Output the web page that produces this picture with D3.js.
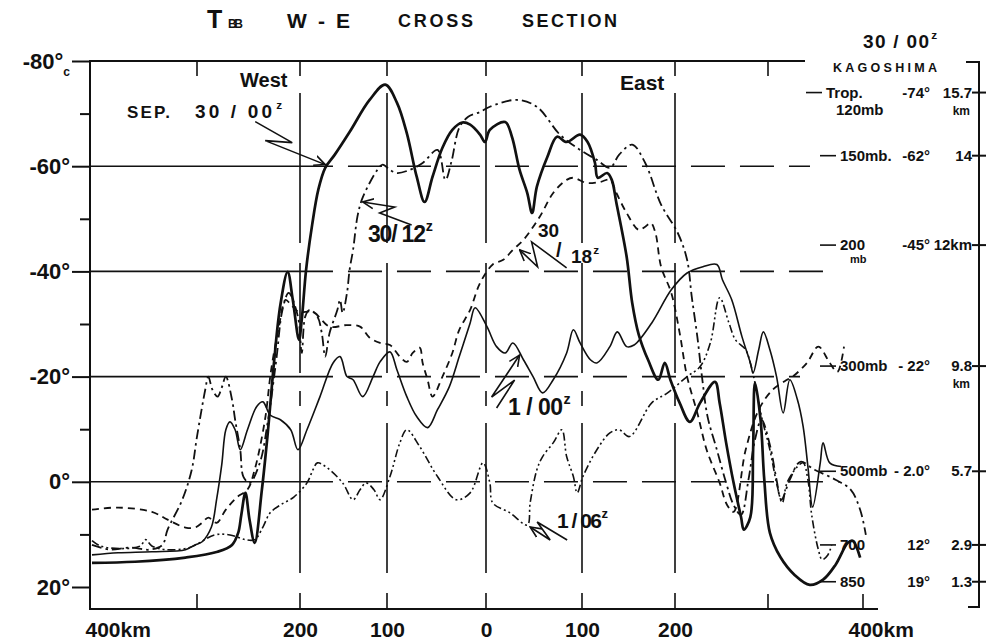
<!DOCTYPE html>
<html>
<head>
<meta charset="utf-8">
<script src="https://cdn.jsdelivr.net/npm/d3@7"></script>
<style>
  body { margin: 0; background: #fff; }
  svg text { font-family: "Liberation Sans", Arial, sans-serif; font-weight: bold; fill: #111; }
</style>
</head>
<body>
<svg id="main"></svg>
<script>
// distance ticks (km, west negative) and temperature ticks (deg C)
var kmLabels = [-400, -200, -100, 0, 100, 200, 400];
var kmGrid = [-200, -100, 0, 100, 200];
var kmTopTicks = [-300, 300];
var kmBottomTicks = [-300, 300, 400];
var tempLabels = [-80, -60, -40, -20, 0, 20];
var tempMinor = [-70, -50, -30, -10, 10];
var tempGrid = [-60, -40, -20, 0];

// TBB profiles, [km, deg C]
var sep30_00 = [[-400,15.4],[-359,15.2],[-311,14.4],[-280,13.3],[-266,12.0],[-260,9.7],[-257,6.3],[-253,2.1],[-249,7.2],[-244,11.6],[-237,1.5],[-231,-9.9],[-225,-23.2],[-219,-33.7],[-212,-39.9],[-207,-34.6],[-201,-27.0],[-198,-30.8],[-193,-40.3],[-186,-48.9],[-179,-55.5],[-171,-59.7],[-160,-62.2],[-143,-66.5],[-120,-72.6],[-102,-75.5],[-90,-72.1],[-80,-66.3],[-70,-58.0],[-62,-53.2],[-54,-58.0],[-44,-63.5],[-34,-66.9],[-24,-68.3],[-16,-67.9],[-6,-66.0],[-1,-64.6],[4,-66.9],[20,-68.4],[27,-65.6],[35,-59.3],[43,-54.9],[48,-51.1],[53,-56.1],[64,-61.8],[74,-65.6],[84,-64.6],[98,-66.0],[106,-64.6],[114,-60.6],[117,-57.8],[127,-58.7],[132,-57.4],[137,-53.0],[148,-42.8],[154,-34.0],[161,-28.0],[171,-23.2],[182,-19.4],[189,-22.6],[195,-19.4],[205,-15.0],[216,-11.4],[227,-15.0],[243,-19.0],[248,-15.0],[255,-7.4],[263,0.2],[271,6.7],[274,9.1],[281,6.7],[284,-6.1],[286,-18.8],[292,-11.8],[296,-0.4],[302,9.7],[313,14.3],[328,17.7],[344,19.6],[358,18.6],[371,15.8],[384,11.6],[389,11.2],[397,14.4]];

var sep30_12 = [[-400,12.0],[-383,12.9],[-364,12.5],[-345,12.9],[-333,12.0],[-328,9.1],[-314,3.4],[-305,-2.3],[-300,-8.6],[-292,-17.5],[-289,-20.0],[-285,-17.5],[-280,-16.2],[-276,-17.9],[-272,-20.0],[-266,-15.6],[-263,-11.8],[-258,-6.1],[-255,-1.0],[-249,0.2],[-239,-3.6],[-231,-11.8],[-223,-23.2],[-217,-32.7],[-211,-35.9],[-202,-31.4],[-198,-24.5],[-194,-31.4],[-189,-32.7],[-180,-31.4],[-175,-28.3],[-171,-23.8],[-166,-28.3],[-157,-32.7],[-154,-34.6],[-151,-32.1],[-146,-35.9],[-143,-40.3],[-139,-44.1],[-134,-50.4],[-129,-53.6],[-120,-56.8],[-111,-59.3],[-105,-60.3],[-97,-59.3],[-90,-58.7],[-77,-59.3],[-64,-60.6],[-49,-63.1],[-41,-57.4],[-35,-60.8],[-27,-67.3],[-18,-69.4],[-6,-70.3],[4,-71.3],[32,-72.6],[53,-71.3],[77,-66.0],[98,-63.1],[116,-61.2],[130,-59.7],[140,-62.2],[154,-64.1],[168,-60.6],[185,-52.7],[203,-47.3],[213,-42.2],[218,-35.2],[224,-27.6],[229,-20.0],[235,-12.4],[245,-6.1],[255,0.2],[263,4.4],[271,6.3],[279,-0.4],[286,-8.0],[293,-11.8],[302,-7.0],[309,-0.4],[314,3.4],[323,-0.4],[334,-3.8],[349,-2.3],[371,-0.4],[387,1.5],[397,5.3],[403,10.1]];

var sep30_18 = [[-400,5.3],[-375,4.9],[-343,5.7],[-328,7.2],[-311,8.7],[-302,8.7],[-295,7.8],[-289,6.8],[-281,7.8],[-272,5.3],[-261,2.9],[-251,1.5],[-244,-2.3],[-234,-11.8],[-228,-21.3],[-221,-28.9],[-214,-34.6],[-209,-33.7],[-201,-32.3],[-185,-32.3],[-166,-29.5],[-146,-29.8],[-131,-29.5],[-120,-27.4],[-108,-26.4],[-97,-26.0],[-87,-23.8],[-80,-22.8],[-74,-24.5],[-67,-25.5],[-64,-22.6],[-59,-19.4],[-54,-16.2],[-44,-20.0],[-34,-24.5],[-27,-28.9],[-16,-32.7],[-6,-37.8],[7,-41.3],[18,-42.2],[28,-44.1],[39,-46.0],[56,-50.4],[70,-54.9],[84,-57.4],[91,-57.8],[105,-56.8],[119,-57.0],[130,-57.4],[137,-54.9],[148,-51.1],[161,-47.9],[168,-48.5],[174,-49.2],[179,-47.3],[185,-40.9],[196,-35.9],[205,-28.3],[213,-20.0],[224,-13.1],[234,-6.1],[248,0.2],[256,4.4],[263,5.7],[276,-6.1],[290,-13.7],[305,-17.5],[320,-19.4],[326,-20.0],[341,-22.6],[353,-25.7],[365,-22.6],[373,-20.9],[380,-25.7]];

var oct1_00 = [[-400,13.9],[-375,13.5],[-343,13.3],[-311,12.9],[-302,12.0],[-295,11.4],[-286,8.6],[-281,3.4],[-276,-3.2],[-272,-9.9],[-268,-11.4],[-263,-9.9],[-258,-6.1],[-251,-9.9],[-242,-14.3],[-236,-15.2],[-229,-12.7],[-219,-11.8],[-209,-9.9],[-202,-6.1],[-192,-9.9],[-177,-16.2],[-162,-22.6],[-154,-23.8],[-146,-20.0],[-139,-19.4],[-128,-16.2],[-116,-20.0],[-108,-22.8],[-97,-24.7],[-90,-21.3],[-80,-16.2],[-70,-12.4],[-59,-10.3],[-49,-13.7],[-37,-18.1],[-27,-23.8],[-16,-30.2],[-11,-33.1],[1,-29.5],[11,-25.7],[20,-24.5],[28,-26.4],[39,-23.2],[49,-20.0],[59,-16.9],[70,-19.4],[84,-24.5],[91,-28.9],[98,-26.4],[109,-23.2],[116,-22.6],[130,-25.7],[138,-28.5],[148,-25.7],[156,-26.0],[175,-30.2],[196,-36.5],[213,-39.7],[230,-40.9],[245,-41.3],[251,-38.4],[261,-34.6],[272,-27.6],[281,-22.6],[284,-20.7],[290,-25.1],[295,-28.5],[302,-25.1],[309,-20.0],[316,-13.1],[323,-19.4],[331,-15.6],[337,-10.5],[342,-2.9],[347,4.8],[355,-3.6],[358,-7.4],[365,-3.6],[377,-2.9]];

var oct1_06 = [[-400,11.2],[-392,12.2],[-373,12.7],[-354,12.2],[-349,11.0],[-343,12.2],[-330,12.9],[-307,12.5],[-283,10.1],[-268,10.1],[-253,11.0],[-244,11.0],[-236,8.6],[-229,5.9],[-219,4.4],[-206,2.9],[-192,0.2],[-185,-2.3],[-180,-3.6],[-169,-2.7],[-151,0.2],[-139,3.4],[-131,1.5],[-124,0.2],[-115,1.5],[-108,3.4],[-97,-1.0],[-87,-7.4],[-80,-9.9],[-67,-6.7],[-49,-1.0],[-30,3.4],[-16,2.1],[-3,-3.6],[4,0.2],[7,4.0],[25,5.9],[43,8.2],[46,4.0],[53,-2.3],[59,-4.8],[70,-7.4],[79,-9.9],[84,-4.8],[91,-1.0],[95,2.1],[101,-1.0],[116,-6.1],[130,-9.3],[140,-9.9],[151,-8.6],[175,-15.0],[192,-16.9],[213,-20.0],[227,-21.9],[238,-26.4],[248,-35.0],[258,-30.2],[265,-27.0],[276,-25.1],[281,-22.6],[286,-18.8],[293,-12.4],[302,-6.1],[309,0.2],[315,4.0],[320,0.2],[331,-2.9],[337,-3.6],[342,-0.4],[346,6.3],[353,12.9],[357,14.8],[363,13.9],[367,12.0]];

// Kagoshima sounding, 30/00z
var kagoLevels = ["Trop.", "150mb.", "200", "300mb", "500mb", "700", "850"];
var kagoLevelSub = ["120mb", "", "mb", "", "", "", ""];
var kagoTemps = [-74, -62, -45, -22, -2.0, 12, 19];
var kagoTempLabels = ["-74°", "-62°", "-45°", "- 22°", "- 2.0°", "12°", "19°"];
var kagoHeights = ["15.7", "14", "12km", "9.8", "5.7", "2.9", "1.3"];
var kagoHeightSub = ["km", "", "", "km", "", "", ""];

var w = 993;
var h = 642;
var plotLeft = 90, plotTop = 61, plotBottom = 609;

var svg = d3.select("#main")
  .attr("width", w)
  .attr("height", h);

var x = d3.scaleLinear()
  .domain([-400, -300, -200, -100, 0, 100, 200, 300, 400])
  .range([92, 197, 300, 387, 486, 582, 675, 768, 863]);

var y = d3.scaleLinear()
  .domain([-80, 20])
  .range([plotTop, 587]);

var ink = "#111";

// grid
var gridEnd = {"-60": 810, "-40": 825, "-20": 800, "0": 840};
tempGrid.forEach(function(t) {
  svg.append("line")
    .attr("x1", plotLeft).attr("x2", x(-201))
    .attr("y1", y(t)).attr("y2", y(t))
    .attr("stroke", ink).attr("stroke-width", 1.6);
  svg.append("line")
    .attr("x1", x(-201)).attr("x2", gridEnd[t])
    .attr("y1", y(t)).attr("y2", y(t))
    .attr("stroke", ink).attr("stroke-width", 1.6)
    .attr("stroke-dasharray", "34,15");
});

svg.selectAll(".vgrid")
  .data(kmGrid)
  .enter()
  .append("line")
  .attr("class", "vgrid")
  .attr("x1", function(d) { return x(d); })
  .attr("x2", function(d) { return x(d); })
  .attr("y1", plotTop).attr("y2", plotBottom)
  .attr("stroke", ink).attr("stroke-width", 1.6)
  .attr("stroke-dasharray", "15,17,150,20,110,18");

kmTopTicks.forEach(function(k) {
  svg.append("line")
    .attr("x1", x(k)).attr("x2", x(k))
    .attr("y1", plotTop).attr("y2", plotTop + 15)
    .attr("stroke", ink).attr("stroke-width", 1.6);
});
kmBottomTicks.forEach(function(k) {
  svg.append("line")
    .attr("x1", x(k)).attr("x2", x(k))
    .attr("y1", plotBottom - 15).attr("y2", plotBottom)
    .attr("stroke", ink).attr("stroke-width", 1.6);
});

// frame
svg.append("path")
  .attr("d", "M805," + plotTop + "H" + plotLeft + "V" + plotBottom + "H878")
  .attr("fill", "none").attr("stroke", ink).attr("stroke-width", 2);

// axes
var yAxis = d3.axisLeft(y)
  .tickValues(tempLabels)
  .tickSize(18)
  .tickPadding(2)
  .tickFormat(function(d) { return (d < 0 ? "-" : "") + Math.abs(d) + "°"; });

var gy = svg.append("g")
  .attr("transform", "translate(" + plotLeft + ",0)")
  .call(yAxis);
gy.select(".domain").remove();
gy.selectAll("line").attr("stroke", ink).attr("stroke-width", 2);
gy.attr("font-family", null).attr("font-size", null);
gy.selectAll("text")
  .attr("font-size", 22)
  .attr("fill", ink);
gy.selectAll(".tick").filter(function(d) { return d === -80; }).select("text")
  .append("tspan").attr("font-size", 12).attr("dy", "0.6em").text("c");

var gyMinor = svg.append("g")
  .attr("transform", "translate(" + plotLeft + ",0)")
  .call(d3.axisLeft(y).tickValues(tempMinor).tickSize(10).tickFormat(""));
gyMinor.select(".domain").remove();
gyMinor.selectAll("line").attr("stroke", ink).attr("stroke-width", 2);

var xAxis = d3.axisBottom(x)
  .tickValues(kmLabels)
  .tickSize(0)
  .tickPadding(13)
  .tickFormat(function(d) { return Math.abs(d) + (Math.abs(d) === 400 ? "km" : ""); });

var gx = svg.append("g")
  .attr("transform", "translate(0," + plotBottom + ")")
  .call(xAxis);
gx.select(".domain").remove();
gx.attr("font-family", null).attr("font-size", null);
gx.selectAll("text")
  .attr("font-size", 21)
  .attr("fill", ink);
gx.selectAll(".tick").filter(function(d) { return Math.abs(d) === 400; }).select("text")
  .attr("text-anchor", "start")
  .attr("dx", function(d) { return d < 0 ? -7 : -15; });

// profiles
var series = [
  {data: sep30_00, width: 2.7, dash: null},
  {data: oct1_00, width: 1.6, dash: null},
  {data: sep30_12, width: 1.8, dash: "10,4,2.5,4"},
  {data: sep30_18, width: 1.8, dash: "7,5"},
  {data: oct1_06, width: 1.6, dash: "8,3,2,3,2,3"}
];

var line = d3.line()
  .x(function(d) { return x(d[0]); })
  .y(function(d) { return y(d[1]); })
  .curve(d3.curveCatmullRom.alpha(0.5));

svg.selectAll(".profile")
  .data(series)
  .enter()
  .append("path")
  .attr("class", "profile")
  .attr("d", function(d) { return line(d.data); })
  .attr("fill", "none")
  .attr("stroke", ink)
  .attr("stroke-width", function(d) { return d.width; })
  .attr("stroke-dasharray", function(d) { return d.dash; })
  .attr("stroke-linejoin", "round");

// title
var title = svg.append("g");
title.append("text").attr("x", 207).attr("y", 28).attr("font-size", 25).text("T");
title.append("text").attr("x", 228).attr("y", 28).attr("font-size", 12).attr("textLength", 15).text("BB");
title.append("text").attr("x", 287).attr("y", 28).attr("font-size", 21).attr("textLength", 63).text("W - E");
title.append("text").attr("x", 398).attr("y", 27).attr("font-size", 18).attr("textLength", 75).text("CROSS");
title.append("text").attr("x", 522).attr("y", 27).attr("font-size", 18).attr("textLength", 95).text("SECTION");

svg.append("text").attr("x", 240).attr("y", 87).attr("font-size", 20).text("West");
svg.append("text").attr("x", 620).attr("y", 90).attr("font-size", 21).text("East");

// annotation labels
function label(x0, y0, main, sup, size, len) {
  var t = svg.append("text").attr("x", x0).attr("y", y0).attr("font-size", size);
  var m = t.append("tspan").text(main);
  if (len) m.attr("textLength", len);
  if (sup) {
    t.append("tspan").attr("font-size", size * 0.62).attr("dy", -size * 0.5).attr("dx", 1).text(sup);
  }
  return t;
}
label(127, 118, "SEP.", null, 17, 43);
label(195, 118, "30 / 00", "z", 19, 77);
label(368, 242, "30/ 12", "z", 23, 58);
label(508, 415, "1 / 00", "z", 23, 55);
label(557, 528, "1 / 06", "z", 21, 45);
svg.append("text").attr("x", 538).attr("y", 237).attr("font-size", 19).text("30");
svg.append("text").attr("x", 556).attr("y", 257).attr("font-size", 20).text("/");
label(571, 263, "18", "z", 19, null);

// zigzag arrows: tip on the profile (data units), bends as pixel offsets
var arrows = [
  {tip: [-171, -60.3], pts: [[-70, -43], [-33, -22], [-60, -24], [0, 0]]},
  {tip: [-128, -53.2], pts: [[49, 23], [17, 11], [32, 5], [0, 0]]},
  {tip: [35, -44.1], pts: [[47, 18], [12, -8], [18, 17], [0, 0]]},
  {tip: [35, -24.1], pts: [[-23, 53], [-5, 25], [-28, 42], [0, 0]]},
  {tip: [46, 8.6], pts: [[37, 13], [7, -5], [20, 13], [0, 0]]}
];

svg.append("defs").append("marker")
  .attr("id", "head")
  .attr("viewBox", "0 0 12 12")
  .attr("refX", 11).attr("refY", 6)
  .attr("markerWidth", 12).attr("markerHeight", 12)
  .attr("markerUnits", "userSpaceOnUse")
  .attr("orient", "auto")
  .append("path")
  .attr("d", "M0,1L11,6L0,11")
  .attr("fill", "none").attr("stroke", ink).attr("stroke-width", 1.6);

arrows.forEach(function(a) {
  var tx = x(a.tip[0]), ty = y(a.tip[1]);
  svg.append("path")
    .attr("d", d3.line()(a.pts.map(function(p) { return [tx + p[0], ty + p[1]]; })))
    .attr("fill", "none").attr("stroke", ink).attr("stroke-width", 1.6)
    .attr("marker-end", "url(#head)");
});

// Kagoshima sounding scale
var kago = svg.append("g");
kago.append("path")
  .attr("d", "M966,62H979V607H968")
  .attr("fill", "none").attr("stroke", ink).attr("stroke-width", 2);
label(863, 48, "30 / 00", "z", 19, 66);
kago.append("text").attr("x", 833).attr("y", 72).attr("font-size", 12.5).attr("textLength", 104).text("KAGOSHIMA");

kagoTemps.forEach(function(t, i) {
  var yy = y(t);
  var lx = i === 0 ? 826 : 840;
  kago.append("line")
    .attr("x1", lx - 20).attr("x2", lx - 4)
    .attr("y1", yy).attr("y2", yy)
    .attr("stroke", ink).attr("stroke-width", 1.6);
  kago.append("line")
    .attr("x1", 972).attr("x2", 986)
    .attr("y1", yy).attr("y2", yy)
    .attr("stroke", ink).attr("stroke-width", 2);
  kago.append("text").attr("x", lx).attr("y", yy + 5).attr("font-size", 15).text(kagoLevels[i]);
  if (kagoLevelSub[i]) {
    kago.append("text").attr("x", lx + 10).attr("y", yy + (i === 0 ? 22 : 18))
      .attr("font-size", i === 0 ? 15 : 11).text(kagoLevelSub[i]);
  }
  kago.append("text").attr("x", 930).attr("y", yy + 5).attr("font-size", 15)
    .attr("text-anchor", "end").text(kagoTempLabels[i]);
  kago.append("text").attr("x", 972).attr("y", yy + 5).attr("font-size", 15)
    .attr("text-anchor", "end").text(kagoHeights[i]);
  if (kagoHeightSub[i]) {
    kago.append("text").attr("x", 970).attr("y", yy + 22).attr("font-size", 12)
      .attr("text-anchor", "end").text(kagoHeightSub[i]);
  }
});
</script>
</body>
</html>
